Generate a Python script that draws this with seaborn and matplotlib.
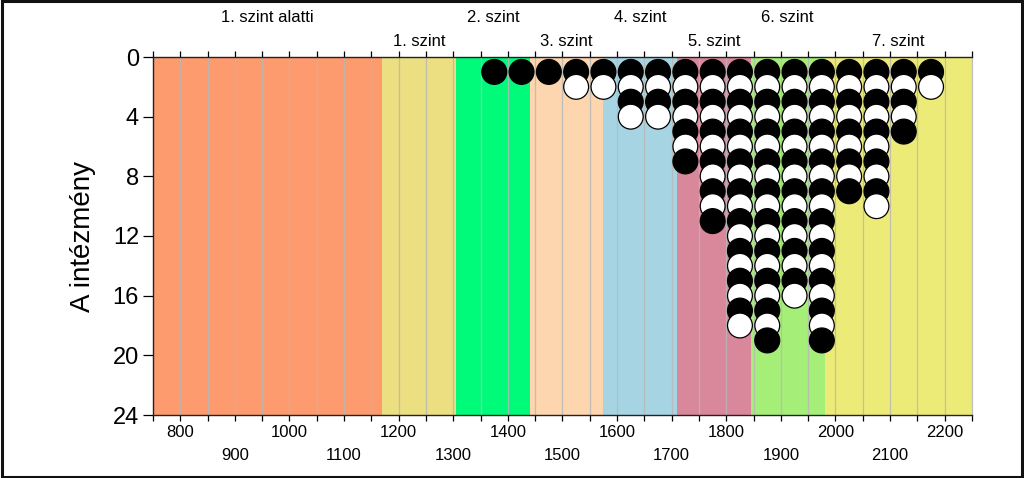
import numpy as np
import pandas as pd
import matplotlib
matplotlib.use("Agg")
import matplotlib.pyplot as plt
import seaborn as sns
from matplotlib.patches import Rectangle

# ---- data ----
level_names = ["1. szint alatti", "1. szint", "2. szint", "3. szint",
               "4. szint", "5. szint", "6. szint", "7. szint"]
level_edges = [750, 1170, 1305, 1440, 1575, 1710, 1845, 1980, 2250]
level_colors = ["#FD9A6E", "#EBDF82", "#00FA7A", "#FDD5AE",
                "#A6D4E3", "#D9879A", "#A5EE78", "#EDEB77"]
bin_centers = [1375, 1425, 1475, 1525, 1575, 1625, 1675, 1725, 1775,
               1825, 1875, 1925, 1975, 2025, 2075, 2125, 2175]
bin_counts = [1, 1, 1, 2, 2, 4, 4, 7, 11, 18, 19, 16, 19, 9, 10, 5, 2]
x_ticks_labeled = [800, 900, 1000, 1100, 1200, 1300, 1400, 1500, 1600,
                   1700, 1800, 1900, 2000, 2100, 2200]
y_ticks = [0, 4, 8, 12, 16, 20, 24]

rows = []
for xc, n in zip(bin_centers, bin_counts):
    for k in range(1, n + 1):
        rows.append({"x": xc, "y": k, "szin": "black" if k % 2 == 1 else "white"})
df = pd.DataFrame(rows).sort_values("y", kind="stable")

sns.set_theme(style="white")
plt.rcParams["font.family"] = ["Liberation Sans", "DejaVu Sans"]
plt.rcParams["text.color"] = "black"
plt.rcParams["axes.labelcolor"] = "black"
plt.rcParams["xtick.color"] = "black"
plt.rcParams["ytick.color"] = "black"

fig = plt.figure(figsize=(10.24, 4.78), dpi=100)
ax = fig.add_axes([153 / 1024, 1 - 415 / 478, (972 - 153) / 1024, (415 - 57) / 478])

# bands
for i in range(len(level_names)):
    ax.axvspan(level_edges[i], level_edges[i + 1], color=level_colors[i], lw=0, zorder=0)

# grid lines
for gx in range(800, 2251, 50):
    ax.axvline(gx, color="#b8b8b8", lw=0.9, alpha=0.85, zorder=1)

# dots: draw row by row so lower dots overlap upper ones
for yv, sub in df.groupby("y", sort=True):
    sns.scatterplot(data=sub, x="x", y="y", hue="szin",
                    palette={"black": "black", "white": "white"},
                    s=320, edgecolor="black", linewidth=0.9,
                    legend=False, ax=ax, zorder=3 + yv * 0.01)

ax.set_xlim(750, 2250)
ax.set_ylim(24, 0)

# x ticks every 50, staggered labels
xt = list(range(750, 2251, 50))
labels = []
for t in xt:
    if t in x_ticks_labeled:
        labels.append(str(t) if (t // 100) % 2 == 0 else "\n" + str(t))
    else:
        labels.append("")
ax.set_xticks(xt)
ax.set_xticklabels(labels, fontsize=12, linespacing=1.7, color="black")
ax.set_yticks(y_ticks)
ax.set_yticklabels([str(v) for v in y_ticks], fontsize=17, color="black")
ax.tick_params(axis="x", which="both", direction="out", length=4, width=0.9,
               color="black", top=True, bottom=True, pad=3)
ax.tick_params(axis="y", direction="out", length=7, width=0.9, color="black",
               left=True, pad=3)
ax.set_xlabel("")
ax.set_ylabel("A intézmény", fontsize=20, labelpad=12, color="black")

for side in ["left", "bottom", "top"]:
    ax.spines[side].set_color("#222222")
    ax.spines[side].set_linewidth(1.0)
ax.spines["right"].set_color("#c0c0c0")
ax.spines["right"].set_linewidth(0.9)

# level labels on top, alternating rows
for i, name in enumerate(level_names):
    xc = (level_edges[i] + level_edges[i + 1]) / 2
    off = 40 if i % 2 == 0 else 16
    ax.annotate(name, xy=(xc, 1), xycoords=("data", "axes fraction"),
                xytext=(0, off * 72 / 100), textcoords="offset points",
                ha="center", va="center", fontsize=12, color="black",
                annotation_clip=False)

# figure border
fig.patches.append(Rectangle((0.0015, 0.003), 0.997, 0.994, transform=fig.transFigure,
                             fill=False, edgecolor="#111111", linewidth=2.2))

fig.savefig("out.png", dpi=100)
